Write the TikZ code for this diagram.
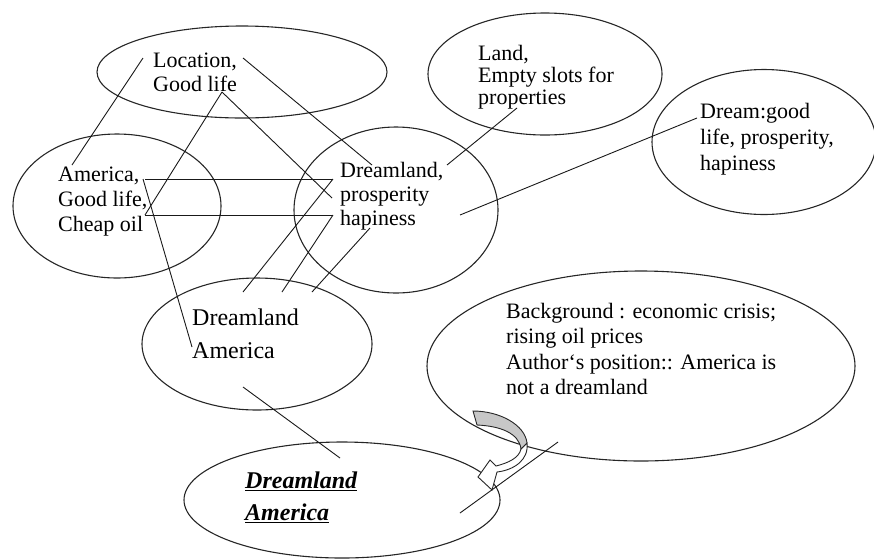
\documentclass[tikz,border=0pt]{standalone}
\usepackage{fontspec}
\setmainfont{Liberation Serif}
\usetikzlibrary{shapes.geometric}
\begin{document}
\begin{tikzpicture}[x=1pt,y=-1pt,
  bubble/.style={draw=black!85, line width=1.1pt, ellipse, inner sep=0pt},
  txt/.style={anchor=north west, inner sep=0pt, align=left, font=\fontsize{22pt}{24pt}\selectfont},
  wire/.style={line width=0.9pt, black!90},
  bandgrey/.style={fill=black!22, draw=black!85, line width=0.9pt},
  bandwhite/.style={fill=white, draw=black!85, line width=0.9pt}]
\useasboundingbox (0,0) rectangle (874,558);

% ellipses
\node[bubble, minimum width=290pt, minimum height=92pt]  (loc)   at (242,72)  {};
\node[bubble, minimum width=208pt, minimum height=144pt] (ame)   at (117,206) {};
\node[bubble, minimum width=204pt, minimum height=166pt] (dre)   at (396,210) {};
\node[bubble, minimum width=234pt, minimum height=122pt] (land)  at (545,74)  {};
\node[bubble, minimum width=224pt, minimum height=145pt] (dream) at (764,142) {};
\node[bubble, minimum width=230pt, minimum height=132pt] (dam)   at (257,344) {};
\node[bubble, minimum width=428pt, minimum height=190pt] (back)  at (641,366) {};
\node[bubble, minimum width=316pt, minimum height=116pt] (dam2)  at (342,500) {};

% texts
\node[txt] (locT) at (153,53) {Location,\\Good life};
\node[txt, font=\fontsize{22pt}{25pt}\selectfont] (ameT) at (58,167) {America,\\Good life,\\Cheap oil};
\node[txt] (dreT) at (340,162) {Dreamland,\\prosperity\\hapiness};
\node[txt, font=\fontsize{22pt}{22pt}\selectfont] (landT) at (478,45) {Land,\\Empty slots for\\properties};
\node[txt, font=\fontsize{22pt}{26pt}\selectfont] (dreamT) at (700,103) {Dream:good\\life, prosperity,\\hapiness};
\node[txt, font=\fontsize{24pt}{33pt}\selectfont] (damT) at (192,309) {Dreamland\\America};
\node[txt, font=\fontsize{22pt}{25.5pt}\selectfont] (backT) at (506,303) {Background : economic crisis;\\rising oil prices\\Author‘s position:: America is\\not a dreamland};
\node[txt, font=\fontsize{24pt}{32pt}\selectfont\bfseries\itshape] (dam2T) at (245,472) {\underline{Dreamland}\\\underline{America}};

% connector end points
\coordinate (a1) at (143,58);  \coordinate (a2) at (72,165);
\coordinate (b1) at (243,58);  \coordinate (b2) at (372,165);
\coordinate (c1) at (222,92);  \coordinate (c2) at (332,198);
\coordinate (c3) at (145,215);
\coordinate (d1) at (143,179); \coordinate (d2) at (192,347);
\coordinate (h1) at (145,179); \coordinate (h2) at (333,179);
\coordinate (h3) at (145,215); \coordinate (h4) at (333,215);
\coordinate (e1) at (243,292); \coordinate (e2) at (282,292);
\coordinate (e3) at (370,228); \coordinate (e4) at (312,292);
\coordinate (f1) at (517,108); \coordinate (f2) at (447,165);
\coordinate (g1) at (697,118); \coordinate (g2) at (460,215);
\coordinate (k1) at (243,387); \coordinate (k2) at (340,458);
\coordinate (m1) at (460,513); \coordinate (m2) at (558,442);

% connectors
\draw[wire] (a1) -- (a2);
\draw[wire] (b1) -- (b2);
\draw[wire] (c1) -- (c2);
\draw[wire] (c1) -- (c3);
\draw[wire] (d1) -- (d2);
\draw[wire] (h1) -- (h2);
\draw[wire] (h3) -- (h4);
\draw[wire] (h2) -- (e1);
\draw[wire] (h4) -- (e2);
\draw[wire] (e3) -- (e4);
\draw[wire] (f1) -- (f2);
\draw[wire] (g1) -- (g2);
\draw[wire] (k1) -- (k2);
\draw[wire] (m1) -- (m2);

% curved block arrow
\draw[bandwhite] (527,443) .. controls (529,460) and (514,470) .. (497,472)
  -- (492,490) -- (478,477) -- (490,460) -- (496,466)
  .. controls (508,463) and (519,458) .. (521,449) -- cycle;
\draw[bandgrey] (473,411) .. controls (500,411) and (525,425) .. (527,443)
  -- (521,449) .. controls (519,433) and (500,426) .. (477,425) -- cycle;
\end{tikzpicture}
\end{document}
